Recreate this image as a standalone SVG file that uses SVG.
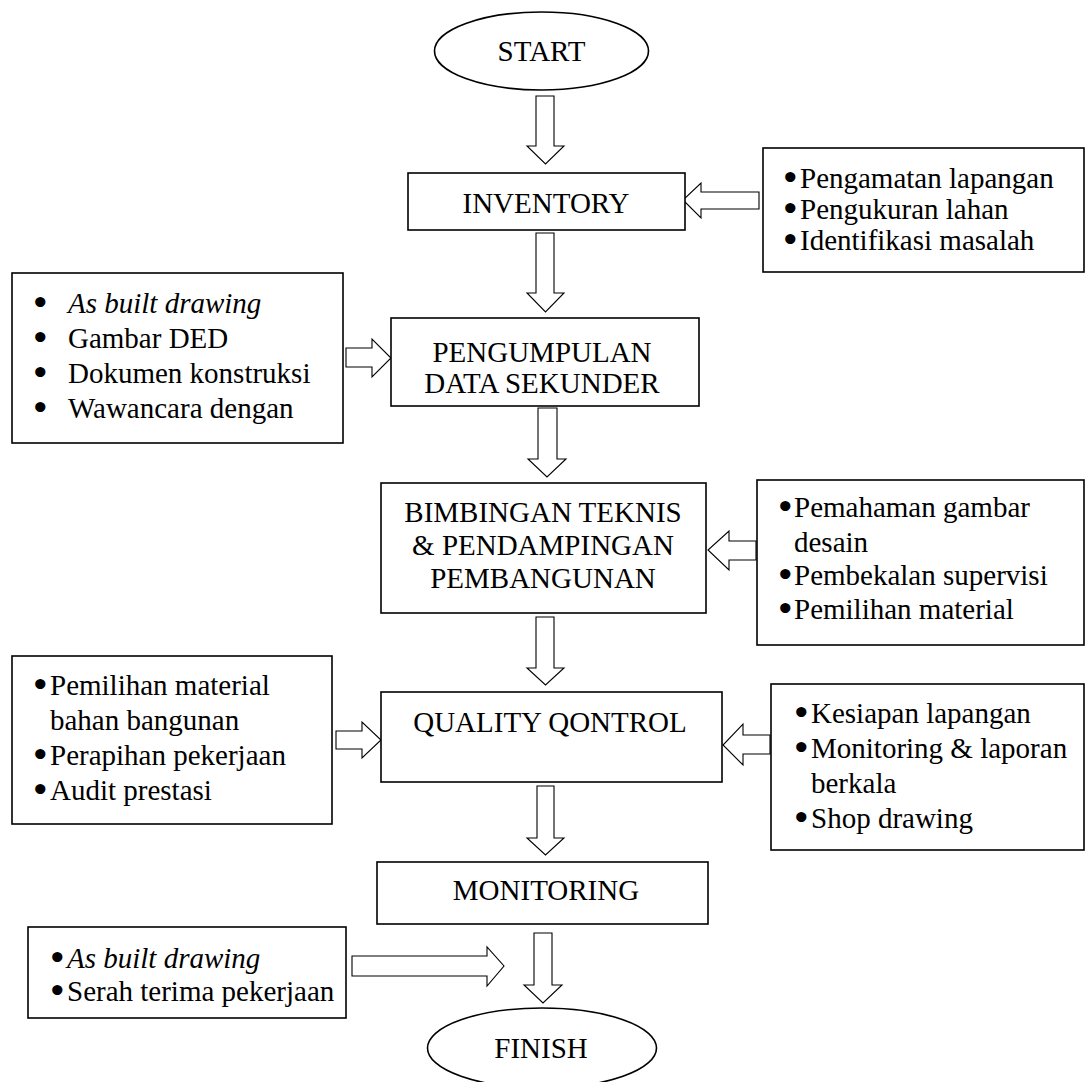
<svg xmlns="http://www.w3.org/2000/svg" width="1088" height="1082" viewBox="0 0 1088 1082">
<style>
.bg{fill:#fff}
.box{fill:#fff;stroke:#000;stroke-width:1.6}
.arr{fill:#fff;stroke:#000;stroke-width:1.1;stroke-linejoin:miter}
text{font-family:"Liberation Serif","Times New Roman",serif;font-size:29px;fill:#000}
.c{text-anchor:middle}
.i{font-style:italic}
.b{font-family:"DejaVu Sans",sans-serif;font-weight:bold;font-size:29px}
</style>
<rect class="bg" x="0" y="0" width="1088" height="1082"/>
<g id="connectors">
<polygon class="arr" points="536,96 554,96 554,146 564,146 545.5,164 527,146 536,146"/>
<polygon class="arr" points="536,233 554,233 554,293 564,293 545.5,312 527,293 536,293"/>
<polygon class="arr" points="538,408 557,408 557,459 566,459 547,477 528,459 538,459"/>
<polygon class="arr" points="536,617 554,617 554,668 564,668 545.5,685 527,668 536,668"/>
<polygon class="arr" points="537,786 554,786 554,838 564,838 545.5,855 527,838 537,838"/>
<polygon class="arr" points="534,933 552,933 552,985 562,985 543,1003 524,985 534,985"/>
<polygon class="arr" points="346,348 372,348 372,339 391,358 372,377 372,367 346,367"/>
<polygon class="arr" points="336,731 362,731 362,722 381,740 362,758 362,749 336,749"/>
<polygon class="arr" points="352,956 487,956 487,947 504,966 487,986 487,976 352,976"/>
<polygon class="arr" points="759,192 701,192 701,183 683,200 701,218 701,209 759,209"/>
<polygon class="arr" points="756,541 729,541 729,531 708,550 729,570 729,560 756,560"/>
<polygon class="arr" points="770,735 743,735 743,724 723,745 743,765 743,754 770,754"/>
</g>
<g id="start">
<ellipse class="box" cx="541.5" cy="51" rx="107" ry="39"/>
<text class="c" x="541.5" y="61">START</text>
</g>
<g id="inventory">
<rect class="box" x="408" y="173" width="277" height="57"/>
<text class="c" x="546" y="213">INVENTORY</text>
</g>
<g id="inventory-inputs">
<rect class="box" x="763" y="148" width="321" height="124"/>
<text x="781" y="188"><tspan class="b">•</tspan><tspan x="800">Pengamatan lapangan</tspan></text>
<text x="781" y="219"><tspan class="b">•</tspan><tspan x="800">Pengukuran lahan</tspan></text>
<text x="781" y="250"><tspan class="b">•</tspan><tspan x="800">Identifikasi masalah</tspan></text>
</g>
<g id="pengumpulan">
<rect class="box" x="391" y="318" width="308" height="88"/>
<text class="c" x="542" y="362">PENGUMPULAN</text>
<text class="c" x="542" y="393">DATA SEKUNDER</text>
</g>
<g id="pengumpulan-inputs">
<rect class="box" x="12" y="273" width="331" height="170"/>
<text x="31" y="313"><tspan class="b">•</tspan><tspan class="i" x="68">As built drawing</tspan></text>
<text x="31" y="348"><tspan class="b">•</tspan><tspan x="68">Gambar DED</tspan></text>
<text x="31" y="383"><tspan class="b">•</tspan><tspan x="68">Dokumen konstruksi</tspan></text>
<text x="31" y="418"><tspan class="b">•</tspan><tspan x="68">Wawancara dengan</tspan></text>
</g>
<g id="bimbingan">
<rect class="box" x="381" y="483" width="325" height="130"/>
<text class="c" x="543" y="522">BIMBINGAN TEKNIS</text>
<text class="c" x="543" y="555">&amp; PENDAMPINGAN</text>
<text class="c" x="543" y="588">PEMBANGUNAN</text>
</g>
<g id="bimbingan-inputs">
<rect class="box" x="757" y="480" width="327" height="165"/>
<text x="776" y="517"><tspan class="b">•</tspan><tspan x="794">Pemahaman gambar</tspan></text>
<text x="794" y="552">desain</text>
<text x="776" y="585"><tspan class="b">•</tspan><tspan x="794">Pembekalan supervisi</tspan></text>
<text x="776" y="619"><tspan class="b">•</tspan><tspan x="794">Pemilihan material</tspan></text>
</g>
<g id="quality-control">
<rect class="box" x="381" y="692" width="341" height="90"/>
<text class="c" x="550" y="732">QUALITY QONTROL</text>
</g>
<g id="qc-inputs-left">
<rect class="box" x="12" y="656" width="320" height="168"/>
<text x="31" y="695"><tspan class="b">•</tspan><tspan x="50">Pemilihan material</tspan></text>
<text x="50" y="730">bahan bangunan</text>
<text x="31" y="765"><tspan class="b">•</tspan><tspan x="50">Perapihan pekerjaan</tspan></text>
<text x="31" y="800"><tspan class="b">•</tspan><tspan x="50">Audit prestasi</tspan></text>
</g>
<g id="qc-inputs-right">
<rect class="box" x="771" y="684" width="313" height="166"/>
<text x="792" y="723"><tspan class="b">•</tspan><tspan x="811">Kesiapan lapangan</tspan></text>
<text x="792" y="758"><tspan class="b">•</tspan><tspan x="811">Monitoring &amp; laporan</tspan></text>
<text x="811" y="793">berkala</text>
<text x="792" y="828"><tspan class="b">•</tspan><tspan x="811">Shop drawing</tspan></text>
</g>
<g id="monitoring">
<rect class="box" x="377" y="862" width="331" height="62"/>
<text class="c" x="546" y="900">MONITORING</text>
</g>
<g id="monitoring-inputs">
<rect class="box" x="28" y="927" width="318" height="91"/>
<text x="48" y="968"><tspan class="b">•</tspan><tspan class="i" x="67">As built drawing</tspan></text>
<text x="48" y="1001"><tspan class="b">•</tspan><tspan x="67">Serah terima pekerjaan</tspan></text>
</g>
<g id="finish">
<ellipse class="box" cx="542" cy="1048" rx="114.5" ry="40"/>
<text class="c" x="541" y="1058">FINISH</text>
</g>
</svg>
